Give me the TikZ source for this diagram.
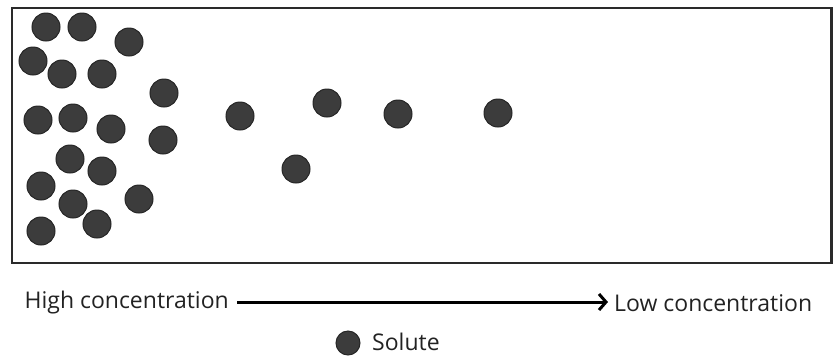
\documentclass[tikz,border=0pt]{standalone}
\usepackage{fontspec}
\setmainfont{Open Sans}
\usetikzlibrary{arrows.meta}
\definecolor{dotfill}{HTML}{3C3C3C}
\definecolor{dotedge}{HTML}{262626}
\definecolor{boxline}{HTML}{2A2A2A}
\definecolor{txt}{HTML}{222222}
\begin{document}
\begin{tikzpicture}[x=1pt,y=-1pt,
  solute/.style={circle,fill=dotfill,draw=dotedge,line width=1pt,minimum size=28pt,inner sep=0pt},
  lbl/.style={font=\fontsize{23}{27}\selectfont,text=txt,inner sep=0pt}]
\useasboundingbox (0,0) rectangle (833,360);
\draw[boxline,line width=2.5pt] (12,8) rectangle (831.5,263);
\foreach \x/\y [count=\i] in {46/27,82/27,129/42,33/61,62/74,102/74,164/93,38/120,73/118,111/129,163/140,70/159,102/171,41/186,139/199,73/204,97/224,41/231,240/116,327/103,398/114,498/113,296/169}
  \node[solute] (s\i) at (\x,\y) {};
\node[lbl,anchor=east] (high) at (229,303) {High concentration};
\node[lbl,anchor=west] (low) at (614,303) {Low concentration};
\draw[line width=3pt,-{Straight Barb[length=7pt,width=16pt,line width=3pt]}] ([xshift=8pt,yshift=1pt]high.east) -- ([xshift=-6pt,yshift=1pt]low.west);
\node[solute,minimum size=24pt] (key) at (348,343) {};
\node[lbl,anchor=west] (keylbl) at (372,342) {Solute};
\end{tikzpicture}
\end{document}
